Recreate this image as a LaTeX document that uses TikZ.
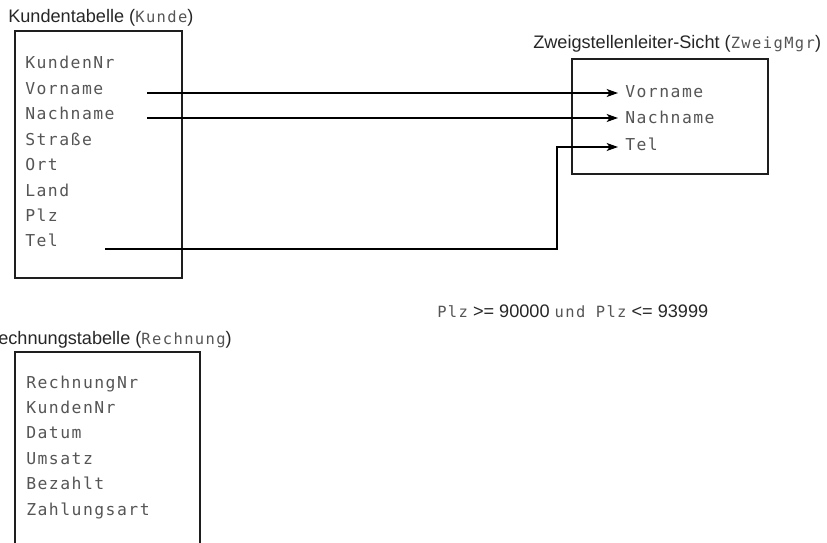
\documentclass[tikz,border=0pt]{standalone}
\usepackage{fontspec}
\setmainfont{Liberation Sans}
\newfontfamily\monofont[LetterSpace=9]{DejaVu Sans Mono}
\usetikzlibrary{arrows.meta}
\definecolor{txtgray}{RGB}{85,85,85}
\definecolor{linec}{RGB}{30,30,30}
\newcommand\capmono[1]{{\monofont\fontsize{11.6}{14}\selectfont\color{txtgray}#1}}
\begin{document}
\begin{tikzpicture}[x=0.75pt,y=-0.75pt,
  title/.style={anchor=base west,inner sep=0pt,font=\fontsize{13.6}{16}\selectfont,text=black!85},
  row/.style={anchor=base west,inner sep=0pt,font=\monofont\fontsize{12.3}{14}\selectfont,text=txtgray},
  tbl/.style={draw=linec,line width=0.9pt},
  conn/.style={draw=black,line width=0.9pt},
  arr/.style={conn,-{Stealth[length=8.5pt,width=6pt,inset=2.2pt]}}]
\useasboundingbox (0,0) rectangle (827,542);

% Kunde table
\node[title] (tK) at (8,23) {Kundentabelle (\capmono{Kunde})};
\draw[tbl] (15,31) rectangle (182,278);
\node[row] (k1) at (25,69) {KundenNr};
\node[row] (k2) at (25,94.4) {Vorname};
\node[row] (k3) at (25,119.8) {Nachname};
\node[row] (k4) at (25,145.2) {Straße};
\node[row] (k5) at (25,170.6) {Ort};
\node[row] (k6) at (25,196) {Land};
\node[row] (k7) at (25,221.4) {Plz};
\node[row] (k8) at (25,246.8) {Tel};

% ZweigMgr view
\node[title] (tZ) at (533,49) {Zweigstellenleiter-Sicht (\capmono{ZweigMgr})};
\draw[tbl] (572,59) rectangle (768,174);
\node[row] (z1) at (625,97) {Vorname};
\node[row] (z2) at (625,123) {Nachname};
\node[row] (z3) at (625,150) {Tel};

% condition
\node[title] (cond) at (437,317) {\capmono{Plz} >= 90000 \capmono{und}\hspace{4pt} \capmono{Plz} <= 93999};

% Rechnung table
\node[title,anchor=base east] (tR) at (232,344) {Rechnungstabelle (\capmono{Rechnung})};
\draw[tbl] (15,545) -- (15,352) -- (200,352) -- (200,545);
\node[row] (r1) at (26,388) {RechnungNr};
\node[row] (r2) at (26,413.4) {KundenNr};
\node[row] (r3) at (26,438.8) {Datum};
\node[row] (r4) at (26,464.2) {Umsatz};
\node[row] (r5) at (26,489.6) {Bezahlt};
\node[row] (r6) at (26,515) {Zahlungsart};

% connectors
\coordinate (sV) at (147,93);
\coordinate (tV) at (618,93);
\coordinate (sN) at (147,118);
\coordinate (tN) at (618,118);
\coordinate (sT) at (105,249);
\coordinate (bT) at (557,249);
\coordinate (tT) at (618,147);
\draw[arr] (sV) -- (tV);
\draw[arr] (sN) -- (tN);
\draw[arr] (sT) -- (bT) |- (tT);
\end{tikzpicture}
\end{document}
